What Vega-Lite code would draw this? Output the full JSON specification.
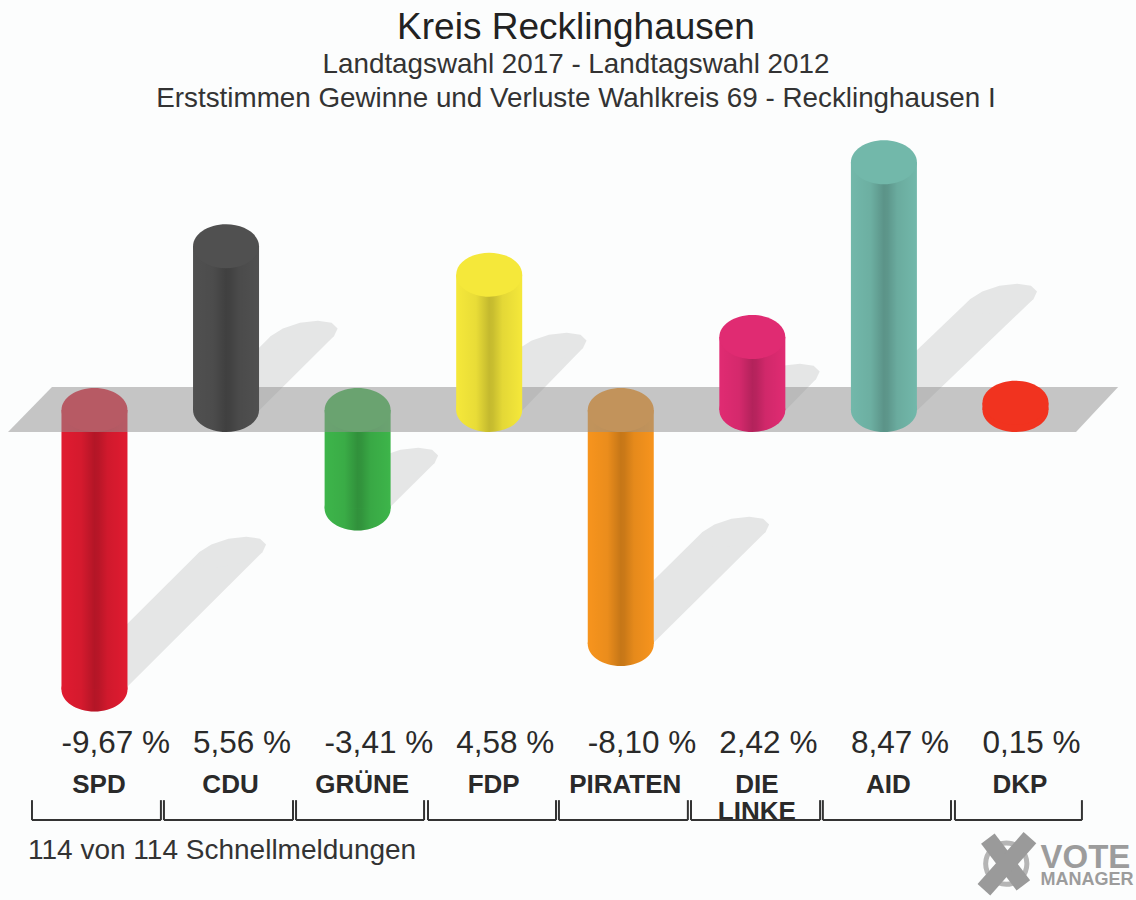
{"$schema":"https://vega.github.io/schema/vega-lite/v6.json","width":1136,"height":900,"padding":0,"autosize":{"type":"none"},"background":"#fcfdfd","config":{"view":{"stroke":null},"axis":{"disable":true},"font":"Liberation Sans","scale":{"continuousPadding":0}},
"title":{"text":"Kreis Recklinghausen","subtitle":["Landtagswahl 2017 - Landtagswahl 2012","Erststimmen Gewinne und Verluste Wahlkreis 69 - Recklinghausen I"],"anchor":"middle","frame":"group","dx":8,"offset":-114,"font":"Liberation Sans","fontSize":37,"fontWeight":"normal","color":"#222","subtitleFont":"Liberation Sans","subtitleFontSize":27.8,"subtitleColor":"#333","subtitleLineHeight":34.5,"subtitlePadding":4},
"datasets":{
"parties":[{"party":"SPD","slot":0,"value":-9.67,"label":"-9,67 %"},{"party":"CDU","slot":1,"value":5.56,"label":"5,56 %"},{"party":"GRÜNE","slot":2,"value":-3.41,"label":"-3,41 %"},{"party":"FDP","slot":3,"value":4.58,"label":"4,58 %"},{"party":"PIRATEN","slot":4,"value":-8.1,"label":"-8,10 %"},{"party":"DIE\nLINKE","slot":5,"value":2.42,"label":"2,42 %"},{"party":"AID","slot":6,"value":8.47,"label":"8,47 %"},{"party":"DKP","slot":7,"value":0.15,"label":"0,15 %"}],
"shadows":[{"party":"SPD","part":"start","slot":0,"lo":-0.24,"hi":0.24,"value":-9.62},{"party":"SPD","part":"end","slot":1.0375,"lo":0.7975,"hi":1.2775,"value":-4.913},{"party":"CDU","part":"start","slot":1,"lo":0.76,"hi":1.24,"value":-0.07},{"party":"CDU","part":"end","slot":1.581,"lo":1.341,"hi":1.821,"value":2.56},{"party":"GRÜNE","part":"start","slot":2,"lo":1.76,"hi":2.24,"value":-3.39},{"party":"GRÜNE","part":"end","slot":2.345,"lo":2.105,"hi":2.585,"value":-1.834},{"party":"FDP","part":"start","slot":3,"lo":2.76,"hi":3.24,"value":-0.07},{"party":"FDP","part":"end","slot":3.473,"lo":3.233,"hi":3.713,"value":2.145},{"party":"PIRATEN","part":"start","slot":4,"lo":3.76,"hi":4.24,"value":-8.1},{"party":"PIRATEN","part":"end","slot":4.861,"lo":4.621,"hi":5.101,"value":-4.221},{"party":"DIE\nLINKE","part":"start","slot":5,"lo":4.76,"hi":5.24,"value":-0.07},{"party":"DIE\nLINKE","part":"end","slot":5.245,"lo":5.005,"hi":5.485,"value":1.07},{"party":"AID","part":"start","slot":6,"lo":5.76,"hi":6.24,"value":-0.07},{"party":"AID","part":"end","slot":6.897,"lo":6.657,"hi":7.137,"value":3.84}],
"band":[{"slot":-0.657,"top":-0.761,"bottom":-0.761},{"slot":-0.323,"top":0.796,"bottom":-0.761},{"slot":7.46,"top":0.796,"bottom":-0.761},{"slot":7.78,"top":0.796,"bottom":0.796}],
"brackets":[{"party":"SPD","lo":-0.475,"hi":0.505},{"party":"CDU","lo":0.528,"hi":1.509},{"party":"GRÜNE","lo":1.532,"hi":2.505},{"party":"FDP","lo":2.535,"hi":3.508},{"party":"PIRATEN","lo":3.53,"hi":4.51},{"party":"DIE LINKE","lo":4.534,"hi":5.515},{"party":"AID","lo":5.536,"hi":6.51},{"party":"DKP","lo":6.54,"hi":7.505}],
"logoX":[{"arm":"a","slot":6.79,"value":-14.83},{"arm":"a","slot":7.06,"value":-16.45},{"arm":"b","slot":7.11,"value":-14.8},{"arm":"b","slot":6.76,"value":-16.6}]
},
"layer":[
{"data":{"name":"shadows"},"mark":{"type":"area","orient":"horizontal","color":"#e5e6e6"},"encoding":{"detail":{"field":"party"},"x":{"field":"lo","type":"quantitative","scale":{"domain":[-0.718,7.916],"nice":false,"zero":false}},"x2":{"field":"hi"},"y":{"field":"value","type":"quantitative","scale":{"domain":[-16.955,14.187],"nice":false,"zero":false}}}},
{"data":{"name":"shadows"},"transform":[{"filter":"datum.part==='end'"}],"mark":{"type":"point","filled":true,"opacity":1,"size":4000,"fill":"#e5e6e6","shape":"M1,0 L.62,.24 L.08,.42 L-.485,.485 L-.92,.42 L-1.11,.24 L-1,0 L-.62,-.24 L-.08,-.42 L.485,-.485 L.92,-.42 L1.11,-.24 Z"},"encoding":{"x":{"field":"slot","type":"quantitative","scale":{"domain":[-0.718,7.916],"nice":false,"zero":false}},"y":{"field":"value","type":"quantitative","scale":{"domain":[-16.955,14.187],"nice":false,"zero":false}}}},

{"data":{"name":"parties"},"transform":[{"filter":"datum.value<0"}],"mark":{"type":"point","filled":true,"opacity":1,"size":4356,"shape":"M-1,0 C-1,-.368 -.552,-.667 0,-.667 C.552,-.667 1,-.368 1,0 C1,.368 .552,.667 0,.667 C-.552,.667 -1,.368 -1,0 Z"},"encoding":{"x":{"field":"slot","type":"quantitative","scale":{"domain":[-0.718,7.916],"nice":false,"zero":false}},"y":{"field":"value","type":"quantitative","scale":{"domain":[-16.955,14.187],"nice":false,"zero":false}},"color":{"field":"party","type":"nominal","scale":{"domain":["SPD","CDU","GRÜNE","FDP","PIRATEN","DIE\nLINKE","AID","DKP"],"range":["#e01b30","#505050","#3db54a","#f5e83a","#f7941d","#e02b72","#72b8aa","#f1331f"]},"legend":null}}},
{"data":{"name":"parties"},"transform":[{"filter":"datum.value<0"}],"mark":{"type":"point","filled":true,"opacity":1,"size":4356,"shape":"M-1,0 C-1,-.368 -.552,-.667 0,-.667 C.552,-.667 1,-.368 1,0 C1,.368 .552,.667 0,.667 C-.552,.667 -1,.368 -1,0 Z","fill":{"gradient":"linear","x1":0,"x2":1,"y1":0,"y2":0,"stops":[{"offset":0,"color":"rgba(0,0,0,0)"},{"offset":0.3,"color":"rgba(0,0,0,0.05)"},{"offset":0.5,"color":"rgba(0,0,0,0.2)"},{"offset":0.56,"color":"rgba(0,0,0,0.18)"},{"offset":0.7,"color":"rgba(0,0,0,0.07)"},{"offset":1,"color":"rgba(0,0,0,0)"}]}},"encoding":{"x":{"field":"slot","type":"quantitative","scale":{"domain":[-0.718,7.916],"nice":false,"zero":false}},"y":{"field":"value","type":"quantitative","scale":{"domain":[-16.955,14.187],"nice":false,"zero":false}}}},
{"data":{"name":"parties"},"transform":[{"filter":"datum.value<0"}],"mark":{"type":"bar","orient":"vertical","size":66},"encoding":{"x":{"field":"slot","type":"quantitative","scale":{"domain":[-0.718,7.916],"nice":false,"zero":false}},"y":{"field":"value","type":"quantitative","scale":{"domain":[-16.955,14.187],"nice":false,"zero":false}},"y2":{"datum":0},"color":{"field":"party","type":"nominal","legend":null}}},
{"data":{"name":"parties"},"transform":[{"filter":"datum.value<0"}],"mark":{"type":"bar","orient":"vertical","size":66,"color":{"gradient":"linear","x1":0,"x2":1,"y1":0,"y2":0,"stops":[{"offset":0,"color":"rgba(0,0,0,0)"},{"offset":0.3,"color":"rgba(0,0,0,0.05)"},{"offset":0.5,"color":"rgba(0,0,0,0.2)"},{"offset":0.56,"color":"rgba(0,0,0,0.18)"},{"offset":0.7,"color":"rgba(0,0,0,0.07)"},{"offset":1,"color":"rgba(0,0,0,0)"}]}},"encoding":{"x":{"field":"slot","type":"quantitative","scale":{"domain":[-0.718,7.916],"nice":false,"zero":false}},"y":{"field":"value","type":"quantitative","scale":{"domain":[-16.955,14.187],"nice":false,"zero":false}},"y2":{"datum":0}}},
{"data":{"name":"parties"},"transform":[{"filter":"datum.value<0"}],"mark":{"type":"point","filled":true,"opacity":1,"size":4356,"shape":"M-1,0 C-1,-.368 -.552,-.667 0,-.667 C.552,-.667 1,-.368 1,0 C1,.368 .552,.667 0,.667 C-.552,.667 -1,.368 -1,0 Z"},"encoding":{"x":{"field":"slot","type":"quantitative","scale":{"domain":[-0.718,7.916],"nice":false,"zero":false}},"y":{"datum":0,"type":"quantitative","scale":{"domain":[-16.955,14.187],"nice":false,"zero":false}},"color":{"field":"party","type":"nominal","legend":null}}},

{"data":{"name":"band"},"mark":{"type":"area","orient":"vertical","color":"#949494","opacity":0.53},"encoding":{"x":{"field":"slot","type":"quantitative","scale":{"domain":[-0.718,7.916],"nice":false,"zero":false}},"y":{"field":"top","type":"quantitative","scale":{"domain":[-16.955,14.187],"nice":false,"zero":false}},"y2":{"field":"bottom"}}},

{"data":{"name":"parties"},"transform":[{"filter":"datum.value>=0"}],"mark":{"type":"point","filled":true,"opacity":1,"size":4356,"shape":"M-1,0 C-1,-.368 -.552,-.667 0,-.667 C.552,-.667 1,-.368 1,0 C1,.368 .552,.667 0,.667 C-.552,.667 -1,.368 -1,0 Z"},"encoding":{"x":{"field":"slot","type":"quantitative","scale":{"domain":[-0.718,7.916],"nice":false,"zero":false}},"y":{"datum":0,"type":"quantitative","scale":{"domain":[-16.955,14.187],"nice":false,"zero":false}},"color":{"field":"party","type":"nominal","legend":null}}},
{"data":{"name":"parties"},"transform":[{"filter":"datum.value>=0 && datum.party!=='DKP'"}],"mark":{"type":"point","filled":true,"opacity":1,"size":4356,"shape":"M-1,0 C-1,-.368 -.552,-.667 0,-.667 C.552,-.667 1,-.368 1,0 C1,.368 .552,.667 0,.667 C-.552,.667 -1,.368 -1,0 Z","fill":{"gradient":"linear","x1":0,"x2":1,"y1":0,"y2":0,"stops":[{"offset":0,"color":"rgba(0,0,0,0)"},{"offset":0.3,"color":"rgba(0,0,0,0.05)"},{"offset":0.5,"color":"rgba(0,0,0,0.2)"},{"offset":0.56,"color":"rgba(0,0,0,0.18)"},{"offset":0.7,"color":"rgba(0,0,0,0.07)"},{"offset":1,"color":"rgba(0,0,0,0)"}]}},"encoding":{"x":{"field":"slot","type":"quantitative","scale":{"domain":[-0.718,7.916],"nice":false,"zero":false}},"y":{"datum":0,"type":"quantitative","scale":{"domain":[-16.955,14.187],"nice":false,"zero":false}}}},
{"data":{"name":"parties"},"transform":[{"filter":"datum.value>=0"}],"mark":{"type":"bar","orient":"vertical","size":66,"yOffset":-3},"encoding":{"x":{"field":"slot","type":"quantitative","scale":{"domain":[-0.718,7.916],"nice":false,"zero":false}},"y":{"field":"value","type":"quantitative","scale":{"domain":[-16.955,14.187],"nice":false,"zero":false}},"y2":{"datum":0},"color":{"field":"party","type":"nominal","legend":null}}},
{"data":{"name":"parties"},"transform":[{"filter":"datum.value>=0 && datum.party!=='DKP'"}],"mark":{"type":"bar","orient":"vertical","size":66,"yOffset":-3,"color":{"gradient":"linear","x1":0,"x2":1,"y1":0,"y2":0,"stops":[{"offset":0,"color":"rgba(0,0,0,0)"},{"offset":0.3,"color":"rgba(0,0,0,0.05)"},{"offset":0.5,"color":"rgba(0,0,0,0.2)"},{"offset":0.56,"color":"rgba(0,0,0,0.18)"},{"offset":0.7,"color":"rgba(0,0,0,0.07)"},{"offset":1,"color":"rgba(0,0,0,0)"}]}},"encoding":{"x":{"field":"slot","type":"quantitative","scale":{"domain":[-0.718,7.916],"nice":false,"zero":false}},"y":{"field":"value","type":"quantitative","scale":{"domain":[-16.955,14.187],"nice":false,"zero":false}},"y2":{"datum":0}}},
{"data":{"name":"parties"},"transform":[{"filter":"datum.value>=0"}],"mark":{"type":"point","filled":true,"opacity":1,"size":4356,"yOffset":-3,"shape":"M-1,0 C-1,-.368 -.552,-.667 0,-.667 C.552,-.667 1,-.368 1,0 C1,.368 .552,.667 0,.667 C-.552,.667 -1,.368 -1,0 Z"},"encoding":{"x":{"field":"slot","type":"quantitative","scale":{"domain":[-0.718,7.916],"nice":false,"zero":false}},"y":{"field":"value","type":"quantitative","scale":{"domain":[-16.955,14.187],"nice":false,"zero":false}},"color":{"field":"party","type":"nominal","legend":null}}},

{"data":{"name":"parties"},"mark":{"type":"text","align":"left","baseline":"alphabetic","dx":-33,"fontSize":31.5,"color":"#2a2a2a"},"encoding":{"x":{"field":"slot","type":"quantitative","scale":{"domain":[-0.718,7.916],"nice":false,"zero":false}},"y":{"datum":-11.87,"type":"quantitative","scale":{"domain":[-16.955,14.187],"nice":false,"zero":false}},"text":{"field":"label"}}},
{"data":{"name":"parties"},"mark":{"type":"text","align":"center","baseline":"top","dx":4.5,"fontSize":26,"fontWeight":"bold","color":"#2a2a2a","lineBreak":"\n","lineHeight":27},"encoding":{"x":{"field":"slot","type":"quantitative","scale":{"domain":[-0.718,7.916],"nice":false,"zero":false}},"y":{"datum":-12.51,"type":"quantitative","scale":{"domain":[-16.955,14.187],"nice":false,"zero":false}},"text":{"field":"party"}}},
{"data":{"name":"brackets"},"mark":{"type":"rule","stroke":"#333","strokeWidth":2},"encoding":{"x":{"field":"lo","type":"quantitative","scale":{"domain":[-0.718,7.916],"nice":false,"zero":false}},"x2":{"field":"hi"},"y":{"datum":-14.19,"type":"quantitative","scale":{"domain":[-16.955,14.187],"nice":false,"zero":false}}}},
{"data":{"name":"brackets"},"mark":{"type":"rule","stroke":"#333","strokeWidth":2},"encoding":{"x":{"field":"lo","type":"quantitative","scale":{"domain":[-0.718,7.916],"nice":false,"zero":false}},"y":{"datum":-13.5,"type":"quantitative","scale":{"domain":[-16.955,14.187],"nice":false,"zero":false}},"y2":{"datum":-14.19}}},
{"data":{"name":"brackets"},"mark":{"type":"rule","stroke":"#333","strokeWidth":2},"encoding":{"x":{"field":"hi","type":"quantitative","scale":{"domain":[-0.718,7.916],"nice":false,"zero":false}},"y":{"datum":-13.5,"type":"quantitative","scale":{"domain":[-16.955,14.187],"nice":false,"zero":false}},"y2":{"datum":-14.19}}},
{"data":{"values":[{"note":"114 von 114 Schnellmeldungen"}]},"mark":{"type":"text","align":"left","baseline":"alphabetic","fontSize":28,"color":"#333"},"encoding":{"x":{"datum":-0.505,"type":"quantitative","scale":{"domain":[-0.718,7.916],"nice":false,"zero":false}},"y":{"datum":-15.55,"type":"quantitative","scale":{"domain":[-16.955,14.187],"nice":false,"zero":false}},"text":{"field":"note"}}},
{"data":{"values":[{"m":"logo"}]},"mark":{"type":"point","filled":false,"opacity":1,"size":1700,"stroke":"#b5b5b5","strokeWidth":5,"shape":"circle"},"encoding":{"x":{"datum":6.93,"type":"quantitative","scale":{"domain":[-0.718,7.916],"nice":false,"zero":false}},"y":{"datum":-15.7,"type":"quantitative","scale":{"domain":[-16.955,14.187],"nice":false,"zero":false}}}},
{"data":{"name":"logoX"},"mark":{"type":"line","stroke":"#9a9a9a","strokeWidth":17,"strokeCap":"butt"},"encoding":{"detail":{"field":"arm"},"order":{"field":"slot"},"x":{"field":"slot","type":"quantitative","scale":{"domain":[-0.718,7.916],"nice":false,"zero":false}},"y":{"field":"value","type":"quantitative","scale":{"domain":[-16.955,14.187],"nice":false,"zero":false}}}},
{"data":{"values":[{"t":"VOTE"}]},"mark":{"type":"text","align":"left","baseline":"alphabetic","fontSize":33,"fontWeight":"bold","color":"#9c9c9c"},"encoding":{"x":{"datum":7.19,"type":"quantitative","scale":{"domain":[-0.718,7.916],"nice":false,"zero":false}},"y":{"datum":-15.84,"type":"quantitative","scale":{"domain":[-16.955,14.187],"nice":false,"zero":false}},"text":{"field":"t"}}},
{"data":{"values":[{"t":"MANAGER"}]},"mark":{"type":"text","align":"left","baseline":"alphabetic","fontSize":18,"fontWeight":"bold","color":"#9c9c9c"},"encoding":{"x":{"datum":7.19,"type":"quantitative","scale":{"domain":[-0.718,7.916],"nice":false,"zero":false}},"y":{"datum":-16.45,"type":"quantitative","scale":{"domain":[-16.955,14.187],"nice":false,"zero":false}},"text":{"field":"t"}}}
]}
